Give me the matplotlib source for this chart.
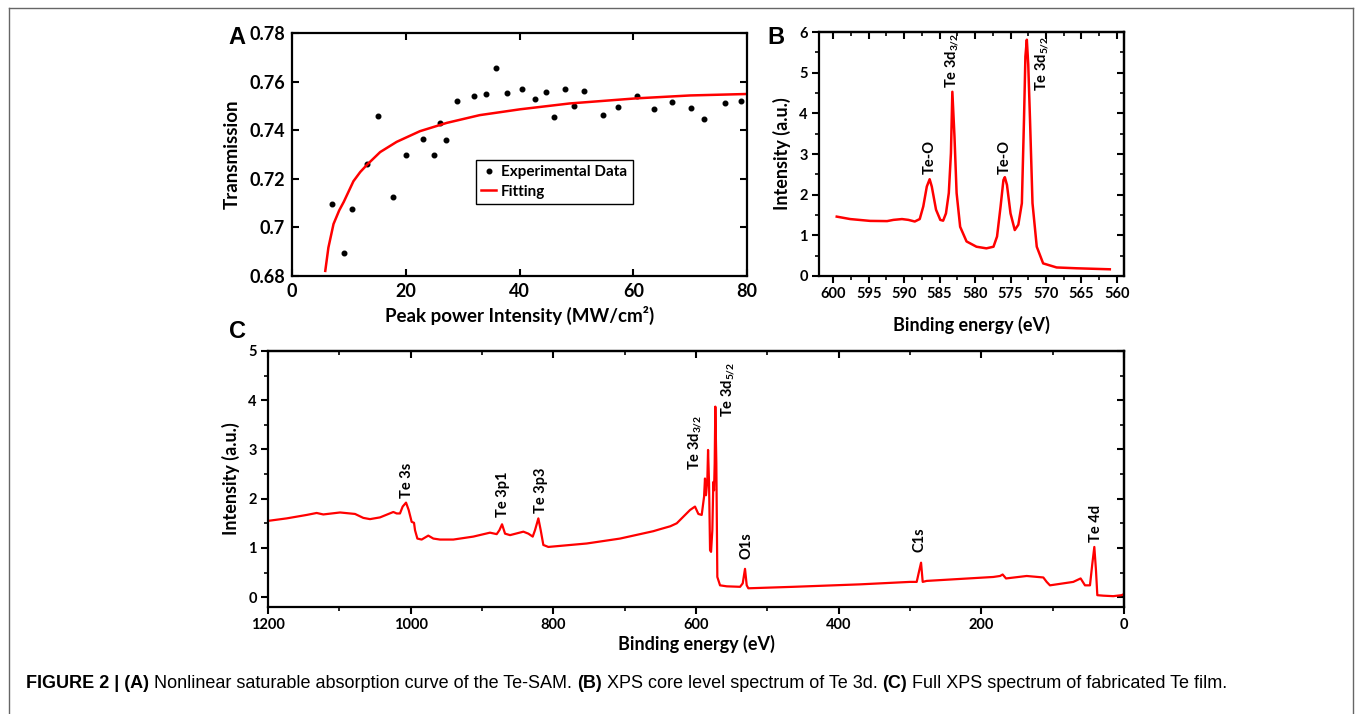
import numpy as np
import matplotlib
matplotlib.use("Agg")
import matplotlib.pyplot as plt
from matplotlib.ticker import MultipleLocator, FuncFormatter
from matplotlib.lines import Line2D

plt.rcParams['font.family'] = ['Lato', 'DejaVu Sans']
plt.rcParams['font.weight'] = 'bold'
plt.rcParams['axes.labelweight'] = 'bold'
plt.rcParams['mathtext.fontset'] = 'custom'
plt.rcParams['mathtext.rm'] = 'Lato:bold'
plt.rcParams['mathtext.it'] = 'Lato:bold'
plt.rcParams['mathtext.bf'] = 'Lato:bold'

RED = '#ff0000'

# ---- panel A: saturable absorption ----
a_intensity = [7.0, 9.1, 10.5, 13.2, 15.1, 17.7, 20.1, 23.1, 24.9, 26.0, 27.1,
               29.0, 32.0, 34.1, 35.8, 37.8, 40.5, 42.7, 44.6, 46.1, 48.0, 49.6,
               51.3, 54.7, 57.4, 60.6, 63.7, 66.9, 70.1, 72.5, 76.1, 79.0]
a_trans = [0.7098, 0.6894, 0.7074, 0.7259, 0.7459, 0.7127, 0.7297, 0.7363,
           0.7297, 0.7428, 0.7361, 0.7520, 0.7542, 0.7549, 0.7658, 0.7554,
           0.7568, 0.7530, 0.7559, 0.7455, 0.7571, 0.7501, 0.7561, 0.7463,
           0.7495, 0.7541, 0.7487, 0.7516, 0.7492, 0.7447, 0.7512, 0.7519]
fit_intensity = [5.85, 6.4, 7.3, 8.3, 9.1, 10.0, 10.8, 12.0, 13.2, 15.5, 18.4,
                 22.5, 27.2, 33.0, 40.1, 48.8, 60.5, 70.0, 80.0]
fit_trans = [0.6821, 0.6917, 0.7014, 0.7070, 0.7105, 0.7150, 0.7190, 0.7228,
             0.7258, 0.7310, 0.7352, 0.7396, 0.7430, 0.7462, 0.7486, 0.7510,
             0.7531, 0.7543, 0.7549]

# ---- panel B: Te 3d core level ----
b_energy = [599.5, 597.6, 594.8, 592.4, 591.5, 590.3, 589.4, 588.5, 587.8,
            587.3, 586.8, 586.4, 586.1, 585.5, 584.9, 584.5, 584.1, 583.7,
            583.4, 583.2, 582.9, 582.6, 582.1, 581.2, 579.8, 578.4, 577.4,
            576.9, 576.4, 576.0, 575.8, 575.5, 575.0, 574.4, 573.9, 573.4,
            573.1, 572.9, 572.7, 572.5, 572.25, 571.9, 571.3, 570.4, 568.5,
            565.7, 561.0]
b_counts = [1.46, 1.40, 1.355, 1.35, 1.38, 1.40, 1.38, 1.34, 1.40,
            1.71, 2.20, 2.38, 2.20, 1.63, 1.38, 1.36, 1.54, 2.04,
            3.02, 4.53, 3.43, 2.04, 1.21, 0.85, 0.72, 0.68, 0.72,
            0.97, 1.71, 2.36, 2.43, 2.24, 1.54, 1.13, 1.26, 1.79,
            3.84, 5.40, 5.81, 5.20, 3.84, 1.79, 0.72, 0.31, 0.21,
            0.19, 0.165]
b_labels = ['Te-O', 'Te 3d$_{3/2}$', 'Te-O', 'Te 3d$_{5/2}$']
b_label_x = [586.4, 583.2, 575.8, 570.6]
b_label_y = [2.50, 4.62, 2.52, 5.92]

# ---- panel C: survey spectrum ----
c_energy = [1199.6, 1173.8, 1145.8, 1131.8, 1122.5, 1099, 1078, 1066.4, 1057,
            1043, 1024.3, 1019.6, 1015, 1011.2, 1006.5, 1002.8, 998.6, 995.3,
            993.9, 990.6, 984.6, 975.3, 968.2, 958.9, 940.2, 912.2, 888.8,
            879.4, 875.6, 871.9, 867.7, 860.7, 842, 835, 828.9, 825.7, 821,
            817.7, 814, 807, 753.2, 706.5, 659.8, 650.5, 636, 627, 608.4,
            601.4, 596.7, 592, 588.7, 587.4, 586, 584.1, 583.1, 581.7, 580.3,
            578.9, 577.1, 575.7, 574.7, 573.8, 572.9, 571.5, 570.1, 566.3,
            556.9, 538.2, 534.5, 531.3, 528.9, 526.6, 463.5, 370, 300, 290.6,
            286.9, 284.5, 282.2, 276.6, 183.2, 173.8, 170.1, 165.4, 136.4,
            113.1, 108.4, 103.8, 71.1, 60.8, 54.7, 47.7, 44.4, 41.6, 39.3,
            37.4, 29, 15, 3.3, 0.5]
c_counts = [1.55, 1.60, 1.67, 1.71, 1.68, 1.72, 1.69, 1.61, 1.585,
            1.62, 1.73, 1.70, 1.70, 1.84, 1.92, 1.77, 1.53, 1.51,
            1.36, 1.19, 1.17, 1.25, 1.19, 1.17, 1.17, 1.23, 1.31,
            1.28, 1.36, 1.48, 1.29, 1.26, 1.33, 1.29, 1.23, 1.36, 1.60,
            1.36, 1.06, 1.02, 1.09, 1.19, 1.34, 1.38, 1.44, 1.50, 1.77,
            1.84, 1.69, 1.67, 2.04, 2.41, 2.07, 2.38, 2.99, 2.31, 0.955,
            0.92, 1.36, 2.34, 2.17, 2.72, 3.87, 2.72, 0.41, 0.24,
            0.22, 0.21, 0.28, 0.575, 0.24, 0.18, 0.21, 0.26, 0.31, 0.31,
            0.55, 0.70, 0.31, 0.33, 0.41, 0.43, 0.46, 0.38, 0.43,
            0.40, 0.31, 0.24, 0.31, 0.38, 0.24, 0.24, 0.68, 1.02, 0.55,
            0.04, 0.03, 0.02, 0.04, 0.06]
c_labels = ['Te 3s', 'Te 3p1', 'Te 3p3', 'Te 3d$_{3/2}$', 'Te 3d$_{5/2}$',
            'O1s', 'C1s', 'Te 4d']
c_label_x = [1005, 870, 817, 601, 555, 529, 286, 39]
c_label_y = [2.02, 1.63, 1.71, 2.58, 4.78, 0.77, 0.92, 1.12]
c_label_va = ['bottom', 'bottom', 'bottom', 'bottom', 'top', 'bottom',
              'bottom', 'bottom']

W, H = 1355, 714
fig = plt.figure(figsize=(W / 100, H / 100), dpi=100)


def box(l, t, r, b):
    return [l / W, 1 - b / H, (r - l) / W, (b - t) / H]


def frame(ax):
    for s in ax.spines.values():
        s.set_linewidth(1.6)
        s.set_color('black')


def origin_ticks(ax, xmaj, xmin, ymaj, ymin, size):
    # Origin style: outward ticks bottom/left, inward ticks on top/right
    ax.xaxis.set_major_locator(MultipleLocator(xmaj))
    ax.xaxis.set_minor_locator(MultipleLocator(xmin))
    ax.yaxis.set_major_locator(MultipleLocator(ymaj))
    ax.yaxis.set_minor_locator(MultipleLocator(ymin))
    ax.tick_params(which='major', direction='out', length=5, width=1.5,
                   labelsize=size, pad=3)
    ax.tick_params(which='minor', direction='out', length=3, width=1.2)
    top = ax.secondary_xaxis('top')
    right = ax.secondary_yaxis('right')
    top.xaxis.set_major_locator(MultipleLocator(xmaj))
    top.xaxis.set_minor_locator(MultipleLocator(xmin))
    right.yaxis.set_major_locator(MultipleLocator(ymaj))
    right.yaxis.set_minor_locator(MultipleLocator(ymin))
    for sec in (top, right):
        sec.tick_params(which='major', direction='in', length=5, width=1.5,
                        labeltop=False, labelright=False)
        sec.tick_params(which='minor', direction='in', length=3, width=1.2)
        for s in sec.spines.values():
            s.set_linewidth(1.6)


# ---- A ----
axA = fig.add_axes(box(292, 33, 747, 276))
axA.plot(a_intensity, a_trans, 'o', color='black', ms=3.3,
         label='Experimental Data')
axA.plot(fit_intensity, fit_trans, '-', color=RED, lw=1.8, label='Fitting')
axA.set_xlim(0, 80)
axA.set_ylim(0.68, 0.78)
axA.set_xticks([0, 20, 40, 60, 80])
axA.set_yticks([0.68, 0.70, 0.72, 0.74, 0.76, 0.78])
axA.yaxis.set_major_formatter(FuncFormatter(lambda v, p: f'{v:g}'))
axA.tick_params(direction='in', top=True, right=True, length=5, width=1.5,
                labelsize=13, pad=5)
axA.set_xlabel('Peak power Intensity (MW/cm²)', fontsize=13.5, labelpad=4)
axA.set_ylabel('Transmission', fontsize=13.5, labelpad=6)
frame(axA)
leg = axA.legend(loc='upper left', bbox_to_anchor=(0.404, 0.478),
                 fontsize=11, frameon=True, fancybox=False, edgecolor='black',
                 framealpha=1, borderpad=0.35, handlelength=1.0,
                 handletextpad=0.3, labelspacing=0.35, borderaxespad=0)
leg.get_frame().set_linewidth(1.0)

# ---- B ----
axB = fig.add_axes(box(819, 32, 1124, 276))
axB.plot(b_energy, b_counts, '-', color=RED, lw=1.8)
axB.set_xlim(602, 559)
axB.set_ylim(0, 6)
origin_ticks(axB, 5, 2.5, 1, 0.5, 10.5)
axB.set_xlabel('Binding energy (eV)', fontsize=13, labelpad=11)
axB.set_ylabel('Intensity (a.u.)', fontsize=13, labelpad=6)
frame(axB)
for txt, x, y in zip(b_labels, b_label_x, b_label_y):
    va = 'top' if txt.endswith('5/2}$') else 'bottom'
    axB.text(x, y, txt, rotation=90, ha='center', va=va, fontsize=10.5)

# ---- C ----
axC = fig.add_axes(box(268, 351, 1124, 607))
axC.plot(c_energy, c_counts, '-', color=RED, lw=1.6)
axC.set_xlim(1200, 0)
axC.set_ylim(-0.2, 5)
origin_ticks(axC, 200, 100, 1, 0.5, 10.5)
axC.set_xlabel('Binding energy (eV)', fontsize=13, labelpad=2)
axC.set_ylabel('Intensity (a.u.)', fontsize=13, labelpad=6)
frame(axC)
for txt, x, y, va in zip(c_labels, c_label_x, c_label_y, c_label_va):
    axC.text(x, y, txt, rotation=90, ha='center', va=va, fontsize=10.5)

# tick labels in bold like the axis labels
for ax in (axA, axB, axC):
    for lab in ax.get_xticklabels() + ax.get_yticklabels():
        lab.set_fontweight('bold')

# panel letters
for letter, (px, py) in zip('ABC', [(237, 37), (776, 37), (237, 331)]):
    fig.text(px / W, 1 - py / H, letter, fontsize=17, fontweight='bold',
             family='Liberation Sans', ha='center', va='center')

# outer frame (open at the bottom)
fc = '#666666'
fig.add_artist(Line2D([9 / W, 9 / W], [0, 1 - 8 / H], color=fc, lw=1))
fig.add_artist(Line2D([9 / W, 1353 / W], [1 - 8 / H, 1 - 8 / H], color=fc, lw=1))
fig.add_artist(Line2D([1353 / W, 1353 / W], [0, 1 - 8 / H], color=fc, lw=1))

# caption, drawn piece by piece so bold and normal runs sit side by side
caption = [('FIGURE 2 | (A)', 'bold'),
           (' Nonlinear saturable absorption curve of the Te-SAM. ', 'normal'),
           ('(B)', 'bold'),
           (' XPS core level spectrum of Te 3d. ', 'normal'),
           ('(C)', 'bold'),
           (' Full XPS spectrum of fabricated Te film.', 'normal')]
renderer = fig.canvas.get_renderer()
cx = 26 / W
for piece, weight in caption:
    t = fig.text(cx, 1 - 683 / H, piece, fontsize=13, fontweight=weight,
                 family='Liberation Sans', ha='left', va='center')
    bb = t.get_window_extent(renderer)
    cx += bb.width / W

fig.savefig('out.png', dpi=100)
